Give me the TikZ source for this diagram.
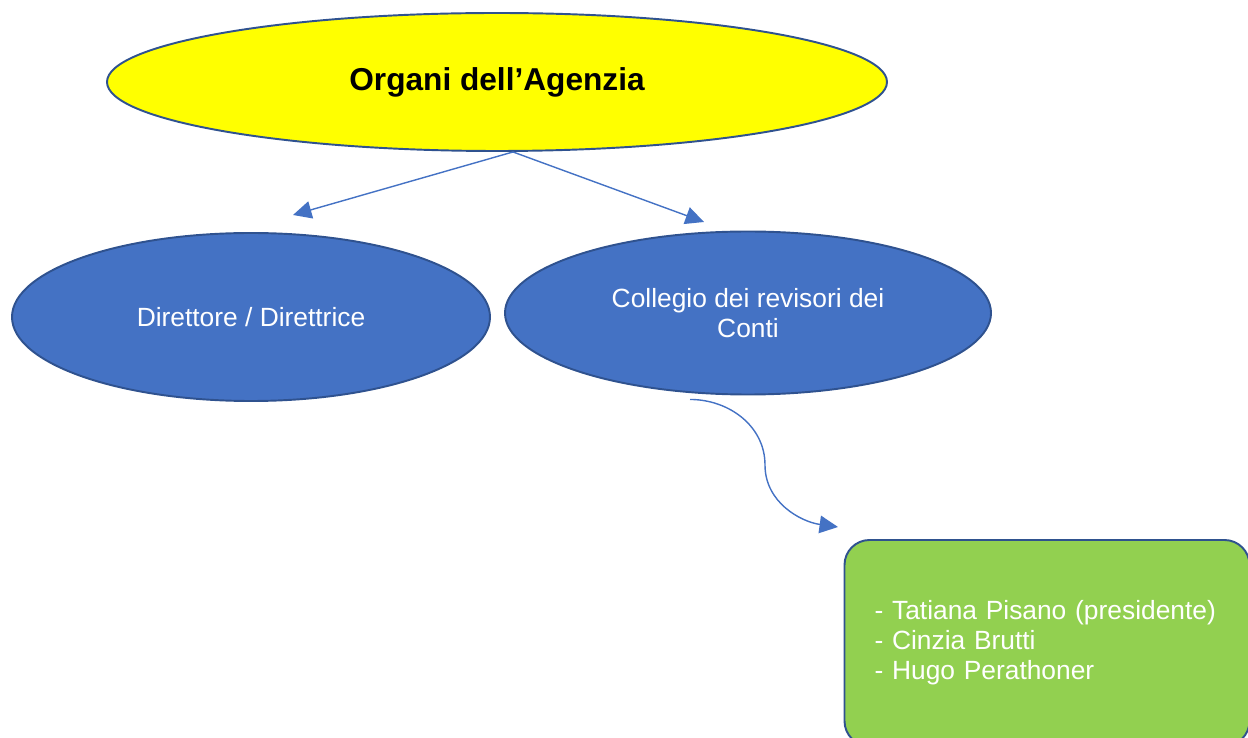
\documentclass[tikz,border=0pt]{standalone}
\usepackage{fontspec}
\setmainfont{Liberation Sans}
\usepackage{tikz}
\usetikzlibrary{positioning, arrows.meta, calc, shapes.geometric}

\definecolor{bordo}{HTML}{2F528F}
\definecolor{freccia}{HTML}{4472C4}
\definecolor{blu}{HTML}{4472C4}
\definecolor{verde}{HTML}{92D050}
\definecolor{giallo}{HTML}{FFFF00}

\begin{document}
\begin{tikzpicture}
		% Define styles
		\tikzset{
			organo/.style={ellipse, draw=bordo, line width=1.1pt, inner sep=0pt, align=center},
			titolo/.style={organo, fill=giallo, font=\fontsize{18}{22}\selectfont\bfseries},
			ufficio/.style={organo, fill=blu, text=white, font=\fontsize{15}{17}\selectfont},
			elenco/.style={rectangle, rounded corners=0.5cm, draw=bordo, line width=1.1pt, fill=verde, text=white, font=\fontsize{15}{17}\selectfont, align=left, text width=6.9cm},
			line/.style={draw=freccia, line width=0.8pt, -{Triangle[length=10.5pt,width=10pt]}}
		}
		\clip (0,0) rectangle (24.96,-14.76);
		
		% Nodes
		\node[titolo, minimum width=15.6cm, minimum height=2.76cm] (org) at (9.94,-1.64) {\raisebox{-0.08cm}{Organi dell’Agenzia}};
		
		\node[ufficio, minimum width=9.56cm, minimum height=3.36cm] (dir) at (5.02,-6.34) {Direttore / Direttrice};
		\node[ufficio, minimum width=9.72cm, minimum height=3.26cm] (coll) at (14.96,-6.26) {Collegio dei revisori dei\\Conti};
		
		\node[elenco, minimum width=8.1cm, minimum height=4.12cm] (membri) at (20.94,-12.86) {- Tatiana Pisano (presidente)\\- Cinzia Brutti\\- Hugo Perathoner};
		
		\coordinate (org-base) at ($(org.south)+(0.32,0)$);
		\coordinate (dir-punta) at (5.86,-4.3);
		\coordinate (coll-punta) at (14.08,-4.44);
		\coordinate (coll-base) at ($(coll.south)+(-1.16,-0.08)$);
		\coordinate (membri-punta) at (16.76,-10.54);
		
		% Arrows
		\draw[line] (org-base) -- (dir-punta);
		\draw[line] (org-base) -- (coll-punta);
		\draw[line] (coll-base) to[out=0,in=90] (15.3,-9.3) to[out=-90,in=172] (membri-punta);
	\end{tikzpicture}
\end{document}
